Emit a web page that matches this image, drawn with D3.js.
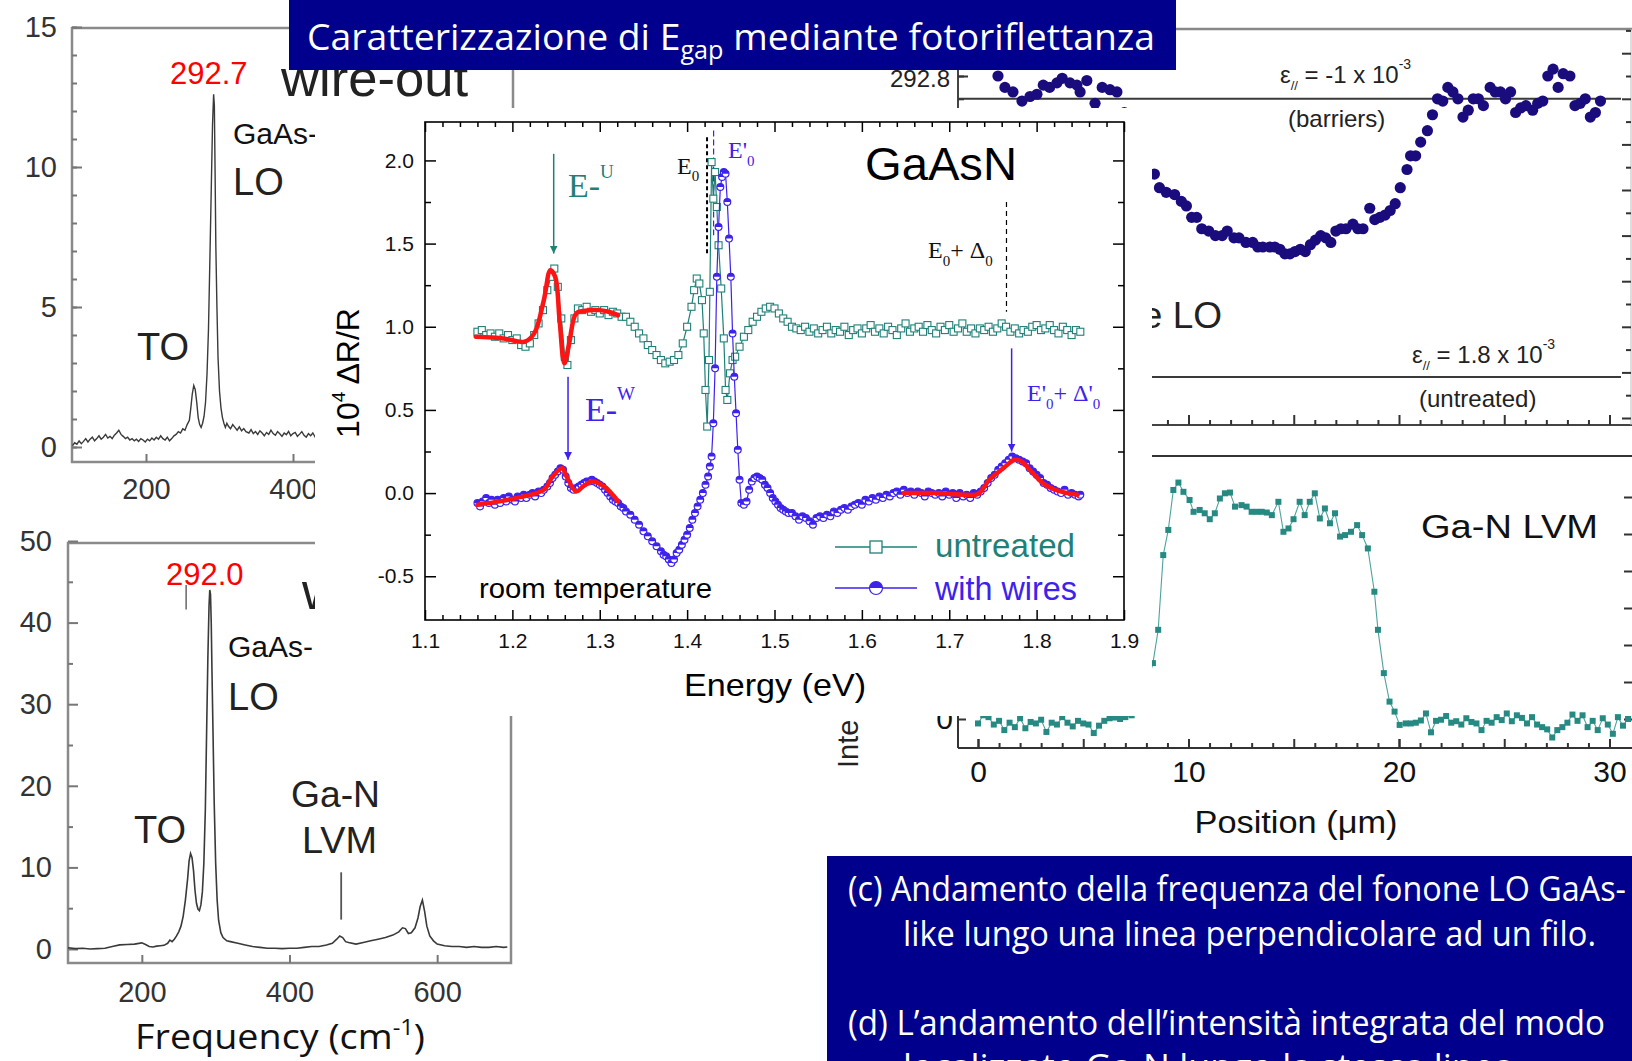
<!DOCTYPE html>
<html>
<head>
<meta charset="utf-8">
<script src="https://cdn.jsdelivr.net/npm/d3@7"></script>
<style>
  html, body { margin: 0; padding: 0; background: #fff; overflow: hidden; }
  svg { display: block; }
</style>
</head>
<body>
<svg id="slide"></svg>
<script>
// ---- Raman spectra (panels a, b): [frequency cm-1, intensity]
const ramanWireOut = [[100,0.05],[103,0.15],[106,0.10],[109,0.22],[112,0.12],[115,0.20],[118,0.30],[121,0.18],[124,0.28],[127,0.35],[130,0.22],[133,0.30],[136,0.40],[139,0.28],[142,0.35],[145,0.45],[148,0.32],[151,0.38],[154,0.30],[157,0.42],[160,0.50],[163,0.60],[166,0.45],[169,0.38],[172,0.30],[175,0.35],[178,0.25],[181,0.30],[184,0.22],[187,0.28],[190,0.20],[193,0.30],[196,0.25],[199,0.18],[202,0.28],[205,0.22],[208,0.32],[211,0.25],[214,0.35],[217,0.28],[220,0.40],[223,0.30],[226,0.25],[229,0.35],[232,0.22],[235,0.30],[238,0.40],[241,0.45],[244,0.55],[247,0.50],[250,0.65],[253,0.60],[256,0.80],[259,0.95],[261,1.40],[263,1.90],[265,2.20],[267,2.05],[269,1.60],[271,1.05],[273,0.80],[275,0.70],[277,0.85],[279,1.10],[281,1.60],[283,2.60],[285,4.20],[287,6.80],[289,9.50],[290.5,11.5],[292,12.6],[293,12.2],[294,9.8],[295,7.2],[296.5,5.0],[298,3.2],[300,2.0],[302,1.40],[304,1.05],[306,0.85],[308,0.70],[310,0.85],[312,0.75],[315,0.65],[318,0.80],[321,0.70],[324,0.60],[327,0.72],[330,0.58],[333,0.66],[336,0.55],[340,0.50],[343,0.62],[346,0.48],[349,0.55],[352,0.45],[355,0.58],[358,0.50],[361,0.40],[364,0.52],[367,0.45],[370,0.60],[373,0.48],[376,0.42],[379,0.55],[382,0.47],[385,0.38],[388,0.50],[391,0.44],[394,0.56],[397,0.40],[400,0.48],[403,0.52],[406,0.38],[409,0.46],[412,0.55],[415,0.42],[418,0.35],[421,0.48],[424,0.40],[427,0.50],[430,0.36],[433,0.44],[436,0.40],[440,0.38]];

const ramanWireIn = [[100,0.15],[110,0.05],[120,0.10],[130,0.0],[140,0.05],[150,0.10],[160,0.30],[170,0.50],[180,0.55],[190,0.60],[200,0.75],[205,0.55],[210,0.30],[215,0.25],[220,0.35],[225,0.40],[230,0.45],[235,0.70],[238,1.10],[241,0.90],[244,1.20],[247,1.60],[250,2.10],[253,2.80],[256,4.00],[259,6.00],[262,8.60],[264,10.8],[266,11.7],[268,11.2],[270,9.6],[272,7.2],[274,5.6],[276,4.9],[278,4.7],[280,5.4],[282,7.0],[284,10.5],[286,17.0],[288,28.0],[289.5,36.0],[291,42.0],[292,44.0],[293,43.5],[294,40.0],[295,34.0],[296.5,26.0],[298,18.0],[300,10.5],[302,6.0],[304,3.5],[307,2.0],[310,1.4],[315,1.0],[320,0.9],[330,0.7],[340,0.5],[350,0.3],[360,0.2],[370,0.1],[380,0.1],[390,0.05],[400,0.1],[410,0.1],[420,0.2],[430,0.3],[440,0.3],[450,0.5],[458,0.7],[464,1.2],[468,1.6],[472,1.4],[476,0.9],[480,0.8],[490,0.6],[500,0.8],[510,1.0],[520,1.2],[530,1.4],[540,1.7],[548,2.1],[553,2.6],[557,2.5],[561,1.9],[565,2.0],[570,2.6],[574,3.8],[577,5.2],[580,6.0],[583,4.6],[586,2.8],[590,1.6],[595,1.0],[600,0.6],[610,0.4],[620,0.3],[630,0.3],[640,0.2],[650,0.3],[660,0.2],[670,0.2],[680,0.3],[690,0.2],[695,0.25]];

const ramanOutYTicks = [0, 5, 10, 15];
const ramanInYTicks = [0, 10, 20, 30, 40, 50];
const ramanOutXTicks = [200, 400];
const ramanInXTicks = [200, 400, 600];

// ---- Photoreflectance (central panel): [energy eV, 10^4 dR/R]
const prUntreated = [[1.160,0.97],[1.165,0.98],[1.170,0.95],[1.175,0.96],[1.180,0.94],[1.185,0.96],[1.190,0.93],[1.195,0.95],[1.200,0.92],[1.205,0.93],[1.210,0.89],[1.215,0.88],[1.220,0.90],[1.225,0.95],[1.230,1.02],[1.235,1.10],[1.240,1.22],[1.244,1.30],[1.248,1.35],[1.252,1.24],[1.256,1.05],[1.260,0.82],[1.263,0.77],[1.267,0.92],[1.271,1.05],[1.275,1.11],[1.280,1.10],[1.285,1.12],[1.290,1.09],[1.295,1.10],[1.300,1.08],[1.305,1.10],[1.310,1.07],[1.315,1.09],[1.320,1.08],[1.325,1.06],[1.330,1.06],[1.335,1.03],[1.340,1.00],[1.345,0.96],[1.350,0.93],[1.355,0.89],[1.360,0.86],[1.365,0.83],[1.370,0.80],[1.375,0.78],[1.380,0.79],[1.385,0.80],[1.390,0.83],[1.395,0.90],[1.400,1.00],[1.405,1.12],[1.408,1.22],[1.411,1.29],[1.414,1.26],[1.417,1.16],[1.419,0.96],[1.421,0.62],[1.423,0.40],[1.425,0.80],[1.426,1.21],[1.428,1.99],[1.430,1.77],[1.432,1.93],[1.434,1.72],[1.436,1.49],[1.439,1.23],[1.442,0.93],[1.444,0.62],[1.446,0.56],[1.449,0.72],[1.452,0.80],[1.455,0.82],[1.460,0.88],[1.465,0.94],[1.470,0.98],[1.475,1.03],[1.480,1.06],[1.485,1.09],[1.490,1.11],[1.495,1.12],[1.500,1.11],[1.505,1.08],[1.510,1.05],[1.515,1.03],[1.520,1.00],[1.525,0.99],[1.530,0.98],[1.535,1.00],[1.540,0.97],[1.545,0.99],[1.550,0.96],[1.555,0.98],[1.560,1.00],[1.565,0.96],[1.570,0.98],[1.575,0.97],[1.580,1.00],[1.585,0.95],[1.590,0.98],[1.595,0.99],[1.600,0.96],[1.605,0.99],[1.610,1.01],[1.615,0.97],[1.620,0.99],[1.625,0.96],[1.630,1.00],[1.635,0.98],[1.640,0.95],[1.645,0.99],[1.650,1.02],[1.655,0.97],[1.660,0.99],[1.665,1.00],[1.670,0.97],[1.675,1.01],[1.680,0.98],[1.685,0.96],[1.690,1.00],[1.695,0.98],[1.700,1.01],[1.705,0.97],[1.710,0.99],[1.715,1.02],[1.720,0.97],[1.725,0.99],[1.730,0.96],[1.735,0.99],[1.740,0.98],[1.745,1.00],[1.750,0.97],[1.755,0.99],[1.760,1.02],[1.765,1.00],[1.770,0.97],[1.775,0.99],[1.780,0.96],[1.785,0.98],[1.790,0.97],[1.795,1.00],[1.800,1.01],[1.805,0.98],[1.810,0.99],[1.815,1.01],[1.820,0.98],[1.825,0.96],[1.830,1.00],[1.835,0.98],[1.840,0.95],[1.845,0.98],[1.850,0.97]];

const prWires = [[1.160,-0.06],[1.163,-0.08],[1.166,-0.05],[1.170,-0.03],[1.173,-0.06],[1.176,-0.04],[1.180,-0.07],[1.183,-0.04],[1.186,-0.06],[1.190,-0.03],[1.193,-0.05],[1.196,-0.02],[1.200,-0.04],[1.203,-0.05],[1.206,-0.02],[1.210,-0.03],[1.213,-0.01],[1.216,-0.03],[1.220,-0.01],[1.223,0.00],[1.226,-0.02],[1.230,0.01],[1.233,0.00],[1.236,0.02],[1.240,0.04],[1.243,0.06],[1.246,0.09],[1.249,0.11],[1.252,0.13],[1.255,0.15],[1.258,0.14],[1.261,0.10],[1.264,0.06],[1.267,0.03],[1.270,0.02],[1.273,0.03],[1.276,0.04],[1.279,0.05],[1.282,0.06],[1.285,0.07],[1.288,0.07],[1.291,0.08],[1.294,0.07],[1.297,0.06],[1.300,0.05],[1.303,0.04],[1.306,0.02],[1.309,0.00],[1.312,-0.02],[1.315,-0.04],[1.318,-0.05],[1.321,-0.06],[1.324,-0.08],[1.327,-0.09],[1.330,-0.11],[1.335,-0.13],[1.340,-0.16],[1.345,-0.19],[1.350,-0.23],[1.355,-0.26],[1.360,-0.29],[1.365,-0.32],[1.370,-0.35],[1.373,-0.37],[1.376,-0.38],[1.379,-0.40],[1.382,-0.42],[1.385,-0.40],[1.388,-0.36],[1.391,-0.34],[1.394,-0.31],[1.397,-0.28],[1.400,-0.25],[1.403,-0.21],[1.406,-0.16],[1.409,-0.12],[1.412,-0.08],[1.415,-0.04],[1.418,0.00],[1.421,0.05],[1.424,0.10],[1.426,0.16],[1.428,0.22],[1.430,0.42],[1.432,0.75],[1.434,1.30],[1.436,1.60],[1.438,1.84],[1.440,1.90],[1.442,1.93],[1.444,1.92],[1.446,1.75],[1.448,1.53],[1.450,1.30],[1.452,0.96],[1.454,0.70],[1.456,0.48],[1.458,0.26],[1.460,0.08],[1.462,-0.06],[1.465,-0.07],[1.468,-0.05],[1.471,0.02],[1.474,0.07],[1.477,0.09],[1.480,0.10],[1.483,0.09],[1.486,0.08],[1.489,0.05],[1.492,0.03],[1.495,0.00],[1.498,-0.03],[1.501,-0.05],[1.504,-0.07],[1.507,-0.09],[1.510,-0.10],[1.513,-0.11],[1.516,-0.12],[1.520,-0.12],[1.524,-0.14],[1.528,-0.16],[1.532,-0.14],[1.536,-0.15],[1.540,-0.17],[1.544,-0.19],[1.548,-0.15],[1.552,-0.14],[1.556,-0.15],[1.560,-0.13],[1.564,-0.14],[1.568,-0.11],[1.572,-0.12],[1.576,-0.10],[1.580,-0.09],[1.584,-0.10],[1.588,-0.08],[1.592,-0.07],[1.596,-0.06],[1.600,-0.07],[1.604,-0.04],[1.608,-0.05],[1.612,-0.03],[1.616,-0.04],[1.620,-0.02],[1.624,-0.03],[1.628,-0.01],[1.632,-0.02],[1.636,0.00],[1.640,0.01],[1.644,-0.01],[1.648,0.02],[1.652,0.00],[1.656,0.01],[1.660,-0.01],[1.664,0.01],[1.668,0.00],[1.672,-0.02],[1.676,0.01],[1.680,0.00],[1.684,-0.01],[1.688,0.00],[1.692,-0.02],[1.696,0.01],[1.700,-0.01],[1.704,0.00],[1.708,-0.03],[1.712,0.00],[1.716,-0.02],[1.720,-0.01],[1.724,-0.03],[1.728,0.00],[1.732,-0.01],[1.736,0.01],[1.740,0.03],[1.744,0.06],[1.748,0.09],[1.752,0.11],[1.756,0.14],[1.760,0.16],[1.764,0.18],[1.768,0.20],[1.772,0.22],[1.776,0.21],[1.780,0.20],[1.784,0.19],[1.788,0.18],[1.792,0.15],[1.796,0.13],[1.800,0.11],[1.804,0.09],[1.808,0.06],[1.812,0.05],[1.816,0.03],[1.820,0.02],[1.824,0.01],[1.828,0.00],[1.832,0.02],[1.836,-0.01],[1.840,0.00],[1.844,-0.01],[1.848,-0.02],[1.850,-0.01]];

const fitUntreated = [[1.158,0.94],[1.190,0.93],[1.214,0.91],[1.225,0.96],[1.236,1.16],[1.2435,1.34],[1.249,1.30],[1.254,1.04],[1.2595,0.78],[1.265,0.90],[1.273,1.08],[1.283,1.096],[1.299,1.10],[1.310,1.09],[1.321,1.07]];
const fitWiresLow = [[1.160,-0.07],[1.185,-0.05],[1.204,-0.03],[1.236,0.02],[1.246,0.10],[1.257,0.15],[1.262,0.10],[1.273,0.01],[1.281,0.04],[1.291,0.07],[1.305,0.04],[1.321,-0.05]];
const fitWiresHigh = [[1.648,0.00],[1.682,0.00],[1.719,-0.01],[1.733,-0.005],[1.746,0.08],[1.762,0.15],[1.775,0.20],[1.783,0.19],[1.794,0.13],[1.807,0.06],[1.821,0.02],[1.835,0.00],[1.847,-0.01]];

const prXTicks = [1.1, 1.2, 1.3, 1.4, 1.5, 1.6, 1.7, 1.8, 1.9];
const prYTicks = [-0.5, 0.0, 0.5, 1.0, 1.5, 2.0];

// ---- LO frequency along the line (panel c): [position um, cm-1]
const loProfile = [[0.95,292.80],[1.28,292.75],[1.66,292.73],[2.09,292.69],[2.47,292.71],[2.80,292.72],[3.10,292.76],[3.40,292.75],[3.75,292.77],[4.00,292.79],[4.37,292.77],[4.70,292.76],[4.85,292.73],[5.17,292.78],[5.56,292.68],[5.90,292.75],[6.27,292.74],[6.60,292.73],[6.95,292.64],[7.30,292.57],[7.65,292.50],[8.00,292.43],[8.38,292.37],[8.62,292.31],[8.94,292.29],[9.34,292.28],[9.66,292.25],[9.90,292.23],[10.15,292.18],[10.39,292.18],[10.63,292.13],[10.96,292.12],[11.28,292.10],[11.60,292.10],[11.84,292.12],[12.16,292.09],[12.40,292.09],[12.73,292.07],[13.05,292.07],[13.29,292.05],[13.53,292.05],[13.86,292.05],[14.10,292.05],[14.34,292.04],[14.58,292.02],[14.82,292.02],[15.06,292.03],[15.31,292.04],[15.55,292.03],[15.79,292.06],[16.03,292.08],[16.28,292.10],[16.52,292.09],[16.76,292.07],[17.00,292.12],[17.24,292.13],[17.48,292.13],[17.81,292.15],[18.05,292.13],[18.29,292.13],[18.61,292.22],[18.85,292.17],[19.09,292.18],[19.34,292.19],[19.58,292.21],[19.82,292.24],[20.06,292.31],[20.38,292.39],[20.55,292.45],[20.79,292.45],[21.03,292.51],[21.35,292.56],[21.59,292.63],[21.83,292.70],[22.08,292.69],[22.32,292.75],[22.56,292.73],[22.80,292.70],[23.04,292.62],[23.29,292.65],[23.53,292.70],[23.77,292.70],[24.01,292.67],[24.33,292.75],[24.57,292.73],[24.82,292.73],[25.06,292.70],[25.30,292.73],[25.54,292.64],[25.78,292.66],[26.03,292.67],[26.35,292.65],[26.59,292.68],[26.83,292.69],[27.07,292.80],[27.32,292.83],[27.56,292.75],[27.80,292.81],[28.12,292.80],[28.36,292.67],[28.61,292.68],[28.85,292.70],[29.09,292.62],[29.33,292.64],[29.57,292.69]];
const strainLevels = [292.70, 291.48];   // barriers, untreated
const loYLabelTicks = [292.8];

// ---- Ga-N LVM integrated intensity (panel d): [position um, a.u.]
const lvmProfile = [[0.00,-0.12],[0.25,0.10],[0.50,0.05],[0.75,-0.15],[1.00,-0.05],[1.25,-0.30],[1.50,-0.10],[1.75,-0.22],[2.00,0.02],[2.25,-0.25],[2.50,-0.08],[2.75,-0.12],[3.00,-0.02],[3.25,-0.35],[3.50,-0.10],[3.75,-0.15],[4.00,0.05],[4.25,-0.10],[4.50,-0.20],[4.75,-0.05],[5.00,-0.12],[5.25,-0.15],[5.50,-0.38],[5.75,-0.18],[6.00,-0.05],[6.25,0.02],[6.50,0.04],[6.75,0.00],[7.00,0.05],[7.30,0.10],[7.60,0.35],[7.90,0.70],[8.10,1.05],[8.31,1.51],[8.56,2.41],[8.80,4.43],[9.04,5.11],[9.28,6.19],[9.52,6.39],[9.76,6.14],[10.05,5.92],[10.24,5.60],[10.53,5.65],[10.77,5.56],[11.01,5.40],[11.25,5.56],[11.49,5.96],[11.73,6.10],[11.97,6.12],[12.21,5.74],[12.52,5.78],[12.76,5.74],[13.00,5.60],[13.24,5.60],[13.48,5.60],[13.72,5.58],[13.96,5.51],[14.27,5.87],[14.51,5.06],[14.75,5.15],[14.99,5.40],[15.28,5.87],[15.52,5.51],[15.76,5.87],[16.00,6.10],[16.24,5.42],[16.48,5.69],[16.72,5.29],[16.96,5.56],[17.20,4.93],[17.44,4.97],[17.72,5.06],[18.01,5.24],[18.25,4.97],[18.52,4.61],[18.83,3.44],[19.00,2.41],[19.28,1.24],[19.55,0.47],[19.79,0.20],[20.03,-0.16],[20.32,-0.12],[20.56,-0.12],[20.80,-0.10],[21.04,-0.04],[21.28,0.15],[21.52,-0.36],[21.76,-0.05],[22.00,-0.02],[22.24,0.08],[22.48,-0.10],[22.72,-0.06],[22.96,-0.15],[23.20,0.02],[23.44,-0.08],[23.68,-0.12],[23.92,-0.30],[24.16,-0.05],[24.40,-0.10],[24.64,0.05],[24.88,-0.03],[25.12,0.15],[25.36,-0.06],[25.60,0.10],[25.84,0.03],[26.08,-0.12],[26.32,0.05],[26.56,-0.15],[26.80,-0.22],[27.04,-0.28],[27.28,-0.50],[27.52,-0.30],[27.76,-0.22],[28.00,-0.10],[28.24,0.12],[28.48,-0.05],[28.72,0.10],[28.96,-0.22],[29.20,-0.05],[29.44,-0.30],[29.68,0.02],[29.92,-0.15],[30.16,-0.40],[30.40,0.05],[30.64,-0.18],[30.88,0.00]];
const positionTicks = [0, 10, 20, 30];

const NAVY = "#00008c";
const TEAL = "#1f8078";
const BLUE = "#3d22ee";
const RED = "#ff1414";
const GREY = "#8a8a8a";
const SANS = "'Liberation Sans', Arial, Helvetica, sans-serif";
const SERIF = "'Liberation Serif', 'Times New Roman', serif";
const SLIDE = "'Open Sans', Calibri, sans-serif";

const W = 1632, H = 1061;
// the central PR figure is pasted over everything in this box
const BOX = {x0: 315, y0: 108, x1: 1152, y1: 716};

const svg = d3.select("#slide").attr("width", W).attr("height", H);
svg.append("rect").attr("width", W).attr("height", H).attr("fill", "#fff");
const defs = svg.append("defs");

function clipOut(id, rects) {
  const cp = defs.append("clipPath").attr("id", id);
  rects.forEach(r => cp.append("rect").attr("x", r[0]).attr("y", r[1]).attr("width", r[2]).attr("height", r[3]));
  return `url(#${id})`;
}

// ticks always drawn pointing into the plot
function inwardAxis(parent, orient, scale, at, values, len, opts = {}) {
  const make = {bottom: d3.axisBottom, top: d3.axisTop, left: d3.axisLeft, right: d3.axisRight}[orient];
  const horiz = orient === "bottom" || orient === "top";
  const ax = make(scale).tickValues(values).tickSize(-len)
      .tickPadding(opts.pad || 0).tickFormat(opts.format || "");
  const g = parent.append("g")
      .attr("transform", horiz ? `translate(0,${at})` : `translate(${at},0)`)
      .call(ax);
  g.select(".domain").remove();
  g.selectAll("line").attr("stroke", opts.color || "#000").attr("stroke-width", opts.width || 1.5);
  g.selectAll("text")
      .attr("fill", opts.textColor || "#111")
      .attr("font-family", opts.font || SANS)
      .attr("font-size", opts.size || 20);
  return g;
}

function label(parent, x, y, txt, size, opts = {}) {
  const t = parent.append("text").attr("x", x).attr("y", y)
      .attr("font-family", opts.font || SANS).attr("font-size", size)
      .attr("fill", opts.fill || "#1a1a1a")
      .attr("text-anchor", opts.anchor || "start")
      .text(txt);
  if (opts.len) t.attr("textLength", opts.len).attr("lengthAdjust", "spacingAndGlyphs");
  return t;
}

// ================= panel a : Raman, wire-out =================
function drawRamanOut() {
  const g = svg.append("g")
      .attr("clip-path", clipOut("clipA", [[0, 0, W, BOX.y0], [0, 0, BOX.x0, H]]));
  const x = d3.scaleLinear().domain([100, 700]).range([72.5, 513.5]);
  const y = d3.scaleLinear().domain([0, 15]).range([447, 27]);
  g.append("rect").attr("x", 72).attr("y", 28).attr("width", 441).attr("height", 434)
      .attr("fill", "none").attr("stroke", GREY).attr("stroke-width", 2.5);
  const axOpt = {color: "#777", width: 2, textColor: "#333", size: 29};
  inwardAxis(g, "left", y, 72, d3.range(0, 16, 1), 5, axOpt);
  inwardAxis(g, "left", y, 72, ramanOutYTicks, 10, {...axOpt, pad: 15, format: d => d});
  inwardAxis(g, "bottom", x, 462, ramanOutXTicks, 8, {...axOpt, pad: 16, format: d => d});

  g.append("path").datum(ramanWireOut)
      .attr("d", d3.line().x(d => x(d[0])).y(d => y(d[1])))
      .attr("fill", "none").attr("stroke", "#3a3a3a").attr("stroke-width", 1.4);

  label(g, 170, 84, "292.7", 31, {fill: "#ff0000"});
  label(g, 281, 96, "wire-out", 52, {fill: "#222", len: 187});
  label(g, 233, 144, "GaAs-", 30, {fill: "#111"});
  label(g, 233, 195, "LO", 38, {fill: "#222"});
  label(g, 137, 360, "TO", 38, {fill: "#222"});
}

// ================= panel b : Raman, wire-in =================
function drawRamanIn() {
  const g = svg.append("g")
      .attr("clip-path", clipOut("clipB", [[0, 0, BOX.x0, H], [0, BOX.y1, W, H - BOX.y1]]));
  const x = d3.scaleLinear().domain([100, 700]).range([68, 511]);
  const y = d3.scaleLinear().domain([0, 50]).range([949, 541]);
  g.append("rect").attr("x", 68).attr("y", 543).attr("width", 443).attr("height", 420)
      .attr("fill", "none").attr("stroke", GREY).attr("stroke-width", 2.5);
  const axOpt = {color: "#777", width: 2, textColor: "#333", size: 29};
  inwardAxis(g, "left", y, 68, d3.range(5, 50, 10), 5, axOpt);
  inwardAxis(g, "left", y, 68, ramanInYTicks, 10, {...axOpt, pad: 16, format: d => d});
  inwardAxis(g, "bottom", x, 963, ramanInXTicks, 8, {...axOpt, pad: 18, format: d => d});

  g.append("path").datum(ramanWireIn)
      .attr("d", d3.line().x(d => x(d[0])).y(d => y(d[1])))
      .attr("fill", "none").attr("stroke", "#3a3a3a").attr("stroke-width", 1.6);

  // pointer marks
  g.append("line").attr("x1", x(260)).attr("x2", x(260)).attr("y1", y(44.6)).attr("y2", y(41.6))
      .attr("stroke", "#666").attr("stroke-width", 1.5);
  g.append("line").attr("x1", x(470)).attr("x2", x(470)).attr("y1", y(9.4)).attr("y2", y(3.6))
      .attr("stroke", "#555").attr("stroke-width", 1.8);

  label(g, 166, 585, "292.0", 31, {fill: "#ff0000"});
  label(g, 302, 609, "wi", 52, {fill: "#222"});
  label(g, 228, 657, "GaAs-", 30, {fill: "#111"});
  label(g, 228, 710, "LO", 38, {fill: "#222"});
  label(g, 134, 843, "TO", 38, {fill: "#222"});
  label(g, 291, 807, "Ga-N", 36, {fill: "#222", len: 89});
  label(g, 302, 853, "LVM", 36, {fill: "#222", len: 75});

  const ft = g.append("text").attr("x", 135).attr("y", 1049)
      .attr("font-family", SLIDE).attr("font-size", 35).attr("fill", "#111")
      .attr("textLength", 290).attr("lengthAdjust", "spacingAndGlyphs");
  ft.append("tspan").text("Frequency (cm");
  ft.append("tspan").attr("font-size", 22).attr("dy", -14).text("-1");
  ft.append("tspan").attr("dy", 14).text(")");
}

// shared position scale for panels c and d
const xPos = d3.scaleLinear().domain([0, 30]).range([978, 1609.5]);

// ================= panel c : LO frequency profile =================
function drawLoProfile() {
  const g = svg.append("g")
      .attr("clip-path", clipOut("clipC", [[BOX.x1, 0, W - BOX.x1, H], [0, 0, W, BOX.y0]]));
  const y = d3.scaleLinear().domain([291.3, 292.8]).range([418, 76]);
  g.append("line").attr("x1", 958).attr("x2", 1632).attr("y1", 29).attr("y2", 29)
      .attr("stroke", "#888").attr("stroke-width", 2.5);
  g.append("line").attr("x1", 958).attr("x2", 1632).attr("y1", 425).attr("y2", 425)
      .attr("stroke", "#444").attr("stroke-width", 2);
  g.append("line").attr("x1", 958).attr("x2", 958).attr("y1", 29).attr("y2", 425)
      .attr("stroke", "#444").attr("stroke-width", 2);
  g.append("line").attr("x1", 1631).attr("x2", 1631).attr("y1", 29).attr("y2", 425)
      .attr("stroke", "#bbb").attr("stroke-width", 1);

  const axOpt = {color: "#333", width: 2, textColor: "#222", size: 24};
  const tenths = d3.range(291.3, 293.01, 0.1).map(v => +v.toFixed(1));
  inwardAxis(g, "left", y, 958, tenths, 6, axOpt);
  inwardAxis(g, "left", y, 958, loYLabelTicks, 10, {...axOpt, pad: 8, format: d => d.toFixed(1)})
      .selectAll("text").attr("dy", "0.45em");
  inwardAxis(g, "right", y, 1631, tenths.filter((v, i) => i % 2 === 1), 5, axOpt);
  inwardAxis(g, "right", y, 1631, tenths.filter((v, i) => i % 2 === 0), 9, axOpt);
  inwardAxis(g, "bottom", xPos, 425, d3.range(0, 31, 1).filter(v => v % 5), 5, axOpt);
  inwardAxis(g, "bottom", xPos, 425, d3.range(0, 31, 5), 10, axOpt);

  g.selectAll("line.level").data(strainLevels).enter().append("line")
      .attr("class", "level")
      .attr("x1", 958).attr("x2", 1621)
      .attr("y1", d => y(d)).attr("y2", d => y(d))
      .attr("stroke", "#3a3a3a").attr("stroke-width", 2);

  g.selectAll("circle").data(loProfile).enter().append("circle")
      .attr("cx", d => xPos(d[0])).attr("cy", d => y(d[1])).attr("r", 5.6)
      .attr("fill", "#1b0c7e");

  const e1 = g.append("text").attr("x", 1280).attr("y", 83)
      .attr("font-family", SANS).attr("font-size", 24).attr("fill", "#222");
  e1.append("tspan").text("ε");
  e1.append("tspan").attr("font-size", 13).attr("dy", 7).text("//");
  e1.append("tspan").attr("dy", -7).text(" = -1 x 10");
  e1.append("tspan").attr("font-size", 14).attr("dy", -14).text("-3");
  label(g, 1288, 127, "(barriers)", 24, {fill: "#222"});

  const e2 = g.append("text").attr("x", 1412).attr("y", 363)
      .attr("font-family", SANS).attr("font-size", 24).attr("fill", "#222");
  e2.append("tspan").text("ε");
  e2.append("tspan").attr("font-size", 13).attr("dy", 7).text("//");
  e2.append("tspan").attr("dy", -7).text(" = 1.8 x 10");
  e2.append("tspan").attr("font-size", 14).attr("dy", -14).text("-3");
  label(g, 1419, 407, "(untreated)", 24, {fill: "#222"});

  label(g, 1222, 328, "e LO", 37, {fill: "#222", anchor: "end"});
}

// ================= panel d : Ga-N LVM intensity =================
function drawLvmProfile() {
  const g = svg.append("g")
      .attr("clip-path", clipOut("clipD", [[BOX.x1, 0, W - BOX.x1, H], [0, BOX.y1, W, H - BOX.y1]]));
  const y = d3.scaleLinear().domain([0, 6]).range([719, 497]);
  g.append("line").attr("x1", 958).attr("x2", 1632).attr("y1", 456).attr("y2", 456)
      .attr("stroke", "#333").attr("stroke-width", 2);
  g.append("line").attr("x1", 958).attr("x2", 1632).attr("y1", 748).attr("y2", 748)
      .attr("stroke", "#333").attr("stroke-width", 2);
  g.append("line").attr("x1", 958).attr("x2", 958).attr("y1", 456).attr("y2", 748)
      .attr("stroke", "#333").attr("stroke-width", 2);

  const axOpt = {color: "#333", width: 2, textColor: "#111", size: 30};
  inwardAxis(g, "left", y, 958, d3.range(1, 7), 8, axOpt);
  inwardAxis(g, "left", y, 958, [0], 8, {...axOpt, pad: 5, format: d => d});
  inwardAxis(g, "right", y, 1632, d3.range(0, 7), 8, axOpt);
  inwardAxis(g, "bottom", xPos, 748, d3.range(0, 31, 1).filter(v => v % 5), 5, axOpt);
  inwardAxis(g, "bottom", xPos, 748, d3.range(0, 31, 5), 9, axOpt);
  inwardAxis(g, "bottom", xPos, 748, positionTicks, 9, {...axOpt, pad: 13, format: d => d});

  g.append("path").datum(lvmProfile)
      .attr("d", d3.line().x(d => xPos(d[0])).y(d => y(d[1])))
      .attr("fill", "none").attr("stroke", "#4fa39c").attr("stroke-width", 1.1);
  g.selectAll("rect.pt").data(lvmProfile).enter().append("rect")
      .attr("class", "pt")
      .attr("x", d => xPos(d[0]) - 3).attr("y", d => y(d[1]) - 3)
      .attr("width", 6).attr("height", 6).attr("fill", "#268a83");

  label(g, 1421, 538, "Ga-N LVM", 34, {fill: "#111", len: 177});
  label(g, 1296, 833, "Position (μm)", 32, {fill: "#111", anchor: "middle", len: 203});
  g.append("text").attr("transform", "translate(858,768) rotate(-90)")
      .attr("font-family", SANS).attr("font-size", 29).attr("fill", "#222")
      .text("Inte");
}

// ================= central panel : photoreflectance =================
function drawPR() {
  svg.append("rect").attr("x", BOX.x0).attr("y", BOX.y0)
      .attr("width", BOX.x1 - BOX.x0).attr("height", BOX.y1 - BOX.y0)
      .attr("fill", "#fff");
  const g = svg.append("g");
  const x = d3.scaleLinear().domain([1.1, 1.9]).range([425, 1124]);
  const y = d3.scaleLinear().domain([-0.763, 2.231]).range([620, 122]);

  [["arrTeal", TEAL], ["arrBlue", BLUE]].forEach(([id, c]) => {
    defs.append("marker").attr("id", id).attr("viewBox", "0 0 10 10")
        .attr("refX", 10).attr("refY", 5).attr("markerWidth", 8).attr("markerHeight", 11)
        .attr("markerUnits", "userSpaceOnUse").attr("orient", "auto")
      .append("path").attr("d", "M0,0L10,5L0,10z").attr("fill", c);
  });

  const minorX = d3.range(1.12, 1.9, 0.02).map(v => +v.toFixed(2)).filter(v => Math.round(v * 100) % 10 !== 0);
  const minorY = [-0.25, 0.25, 0.75, 1.25, 1.75];
  inwardAxis(g, "bottom", x, 620, minorX, 5);
  inwardAxis(g, "top", x, 122, minorX, 5);
  inwardAxis(g, "bottom", x, 620, prXTicks, 10, {pad: 13, format: d => d.toFixed(1), size: 21});
  inwardAxis(g, "top", x, 122, prXTicks, 10);
  inwardAxis(g, "left", y, 425, minorY, 6);
  inwardAxis(g, "right", y, 1124, minorY, 6);
  inwardAxis(g, "left", y, 425, prYTicks, 11, {pad: 11, format: d => d.toFixed(1), size: 21});
  inwardAxis(g, "right", y, 1124, prYTicks, 11);
  g.append("rect").attr("x", 425).attr("y", 122).attr("width", 699).attr("height", 498)
      .attr("fill", "none").attr("stroke", "#000").attr("stroke-width", 1.6);

  // transition markers
  g.append("line").attr("x1", x(1.4303)).attr("x2", x(1.4303)).attr("y1", y(2.18)).attr("y2", y(1.55))
      .attr("stroke", BLUE).attr("stroke-width", 1.2).attr("stroke-dasharray", "6,3");
  g.append("line").attr("x1", x(1.4228)).attr("x2", x(1.4228)).attr("y1", y(2.14)).attr("y2", y(1.44))
      .attr("stroke", "#000").attr("stroke-width", 2).attr("stroke-dasharray", "4,3");
  g.append("line").attr("x1", x(1.7655)).attr("x2", x(1.7655)).attr("y1", y(1.75)).attr("y2", y(1.09))
      .attr("stroke", "#000").attr("stroke-width", 1.2).attr("stroke-dasharray", "5,4");
  g.append("line").attr("x1", x(1.2473)).attr("x2", x(1.2473)).attr("y1", y(2.04)).attr("y2", y(1.44))
      .attr("stroke", TEAL).attr("stroke-width", 1.5).attr("marker-end", "url(#arrTeal)");
  g.append("line").attr("x1", x(1.2637)).attr("x2", x(1.2637)).attr("y1", y(0.70)).attr("y2", y(0.20))
      .attr("stroke", BLUE).attr("stroke-width", 1.5).attr("marker-end", "url(#arrBlue)");
  g.append("line").attr("x1", x(1.7714)).attr("x2", x(1.7714)).attr("y1", y(0.87)).attr("y2", y(0.25))
      .attr("stroke", BLUE).attr("stroke-width", 1.5).attr("marker-end", "url(#arrBlue)");

  const line = d3.line().x(d => x(d[0])).y(d => y(d[1]));

  // untreated
  g.append("path").datum(prUntreated).attr("d", line)
      .attr("fill", "none").attr("stroke", TEAL).attr("stroke-width", 1.2);
  g.selectAll("rect.sq").data(prUntreated).enter().append("rect").attr("class", "sq")
      .attr("x", d => x(d[0]) - 3.5).attr("y", d => y(d[1]) - 3.5)
      .attr("width", 7).attr("height", 7)
      .attr("fill", "#fff").attr("stroke", TEAL).attr("stroke-width", 1.1);

  // with wires
  const half = d3.arc().innerRadius(0).outerRadius(3.4).startAngle(-Math.PI / 2).endAngle(Math.PI / 2);
  g.append("path").datum(prWires).attr("d", line)
      .attr("fill", "none").attr("stroke", BLUE).attr("stroke-width", 1.2);
  const pts = g.selectAll("g.pt").data(prWires).enter().append("g").attr("class", "pt")
      .attr("transform", d => `translate(${x(d[0])},${y(d[1])})`);
  pts.append("circle").attr("r", 3.4).attr("fill", "#fff").attr("stroke", BLUE).attr("stroke-width", 1.2);
  pts.append("path").attr("d", half).attr("fill", BLUE);

  // fits
  const fitLine = d3.line().x(d => x(d[0])).y(d => y(d[1])).curve(d3.curveCatmullRom);
  [fitUntreated, fitWiresLow, fitWiresHigh].forEach(f => {
    g.append("path").datum(f).attr("d", fitLine)
        .attr("fill", "none").attr("stroke", RED).attr("stroke-width", 4.5)
        .attr("stroke-linejoin", "round").attr("stroke-linecap", "round");
  });

  // annotations
  const eu = g.append("text").attr("x", 568).attr("y", 197)
      .attr("font-family", SERIF).attr("font-size", 34).attr("fill", TEAL);
  eu.append("tspan").text("E-");
  eu.append("tspan").attr("font-size", 19).attr("dy", -19).text("U");
  const ew = g.append("text").attr("x", 585).attr("y", 421)
      .attr("font-family", SERIF).attr("font-size", 34).attr("fill", BLUE);
  ew.append("tspan").text("E-");
  ew.append("tspan").attr("font-size", 19).attr("dy", -21).text("W");

  const e0 = g.append("text").attr("x", 677).attr("y", 174)
      .attr("font-family", SERIF).attr("font-size", 24).attr("fill", "#111");
  e0.append("tspan").text("E");
  e0.append("tspan").attr("font-size", 15).attr("dy", 7).text("0");
  const e0p = g.append("text").attr("x", 728).attr("y", 158)
      .attr("font-family", SERIF).attr("font-size", 24).attr("fill", BLUE);
  e0p.append("tspan").text("E'");
  e0p.append("tspan").attr("font-size", 15).attr("dy", 8).text("0");
  const ed = g.append("text").attr("x", 928).attr("y", 258)
      .attr("font-family", SERIF).attr("font-size", 24).attr("fill", "#111");
  ed.append("tspan").text("E");
  ed.append("tspan").attr("font-size", 15).attr("dy", 8).text("0");
  ed.append("tspan").attr("dy", -8).text("+ Δ");
  ed.append("tspan").attr("font-size", 15).attr("dy", 8).text("0");
  const edp = g.append("text").attr("x", 1027).attr("y", 401)
      .attr("font-family", SERIF).attr("font-size", 24).attr("fill", BLUE);
  edp.append("tspan").text("E'");
  edp.append("tspan").attr("font-size", 15).attr("dy", 8).text("0");
  edp.append("tspan").attr("dy", -8).text("+ Δ'");
  edp.append("tspan").attr("font-size", 15).attr("dy", 8).text("0");

  label(g, 865, 180, "GaAsN", 46, {fill: "#000", len: 152});
  label(g, 479, 598, "room temperature", 28, {fill: "#000", len: 233});

  // legend
  g.append("line").attr("x1", 835).attr("x2", 917).attr("y1", 547).attr("y2", 547)
      .attr("stroke", TEAL).attr("stroke-width", 1.5);
  g.append("rect").attr("x", 870).attr("y", 541).attr("width", 12).attr("height", 12)
      .attr("fill", "#fff").attr("stroke", TEAL).attr("stroke-width", 1.3);
  g.append("line").attr("x1", 835).attr("x2", 917).attr("y1", 588).attr("y2", 588)
      .attr("stroke", BLUE).attr("stroke-width", 1.5);
  g.append("circle").attr("cx", 876).attr("cy", 588).attr("r", 6.5)
      .attr("fill", "#fff").attr("stroke", BLUE).attr("stroke-width", 1.2);
  g.append("path").attr("transform", "translate(876,588)")
      .attr("d", d3.arc().innerRadius(0).outerRadius(6.5).startAngle(-Math.PI / 2).endAngle(Math.PI / 2))
      .attr("fill", BLUE);
  label(g, 935, 557, "untreated", 33, {fill: TEAL, len: 140});
  label(g, 935, 600, "with wires", 33, {fill: BLUE, len: 142});

  // axis titles
  label(g, 684, 696, "Energy (eV)", 32, {fill: "#000", len: 182});
  const yl = g.append("text").attr("transform", "translate(359,373) rotate(-90)")
      .attr("text-anchor", "middle").attr("font-family", SANS).attr("font-size", 32).attr("fill", "#000");
  yl.append("tspan").text("10");
  yl.append("tspan").attr("font-size", 19).attr("dy", -14).text("4");
  yl.append("tspan").attr("dy", 14).text(" ΔR/R");
}

// ================= slide title and caption =================
function drawSlideText() {
  svg.append("rect").attr("x", 289).attr("y", 0).attr("width", 887).attr("height", 70).attr("fill", NAVY);
  const t = svg.append("text").attr("x", 307).attr("y", 50)
      .attr("font-family", SLIDE).attr("font-size", 37).attr("fill", "#fff")
      .attr("textLength", 848).attr("lengthAdjust", "spacingAndGlyphs");
  t.append("tspan").text("Caratterizzazione di E");
  t.append("tspan").attr("font-size", 25).attr("dy", 9).text("gap");
  t.append("tspan").attr("dy", -9).text(" mediante fotoriflettanza");

  svg.append("rect").attr("x", 827).attr("y", 856).attr("width", 805).attr("height", 205).attr("fill", NAVY);
  const lines = [
    ["(c) Andamento della frequenza del fonone LO GaAs-", 848, 901, 778],
    ["like lungo una linea perpendicolare ad un filo.", 903, 946, 693],
    ["(d) L’andamento dell’intensità integrata del modo", 848, 1035, 757],
    ["localizzato Ga-N lungo la stessa linea.", 903, 1079, 620]
  ];
  lines.forEach(([s, lx, ly, len]) => label(svg, lx, ly, s, 34, {font: SLIDE, fill: "#fff", len: len}));
}

drawRamanOut();
drawRamanIn();
drawLoProfile();
drawLvmProfile();
drawPR();
drawSlideText();
</script>
</body>
</html>
